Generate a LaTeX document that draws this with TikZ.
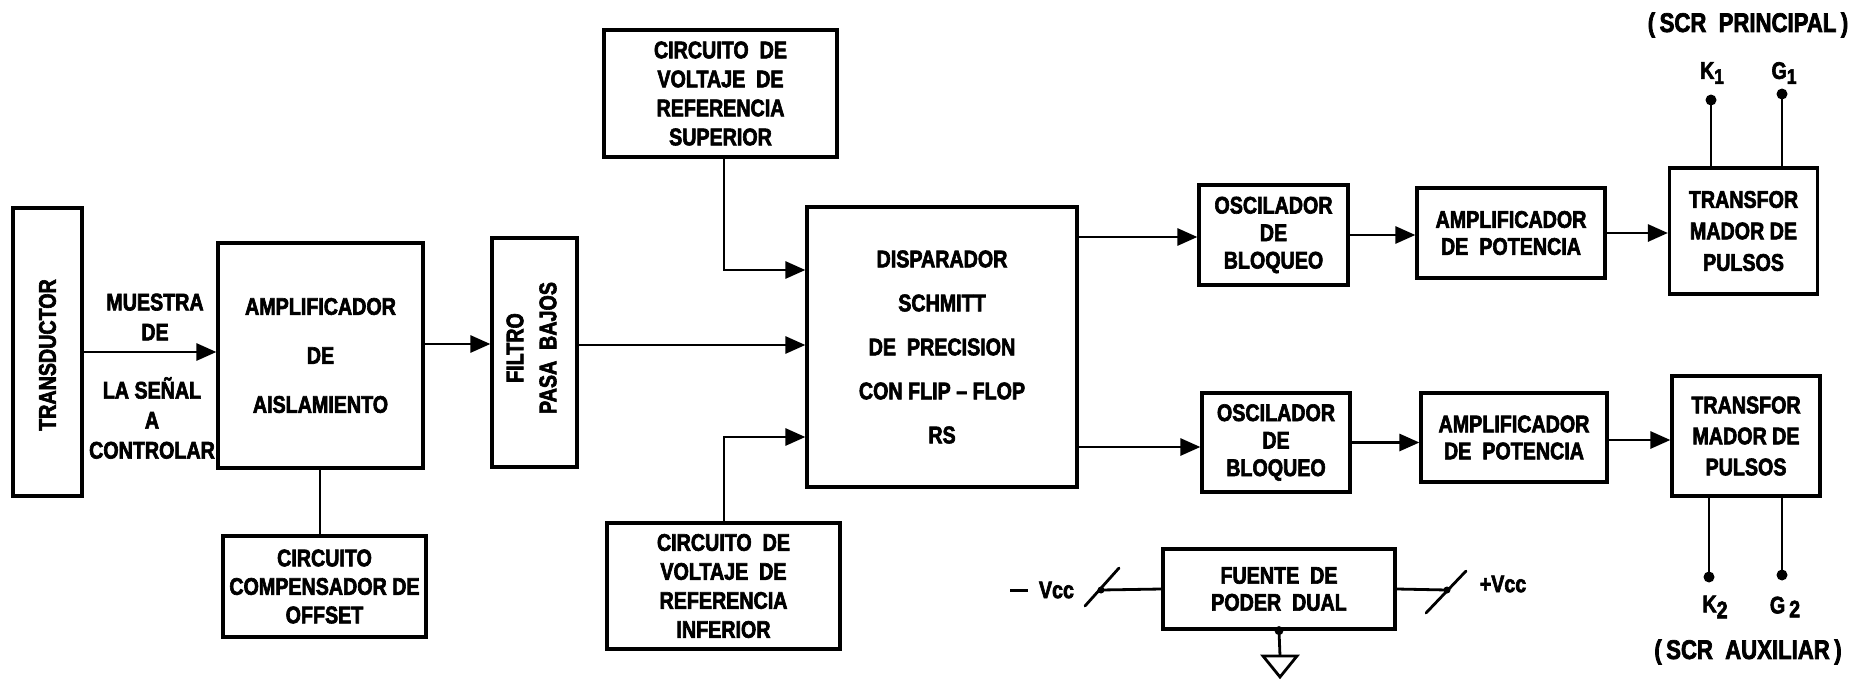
\documentclass[tikz,border=0pt]{standalone}
\usepackage{fontspec}
\setmainfont{Liberation Sans}[UprightFont={* Bold}, BoldFont={* Bold}, FakeStretch=0.82, FakeBold=2.6]
\usetikzlibrary{arrows.meta}
\tikzset{
  box/.style={draw, line width=3.2pt, inner sep=0pt, align=center},
  arr/.style={line width=2.8pt, -{Triangle[length=20pt,width=17pt]}},
  wire/.style={line width=2.8pt},
  dot/.style={circle, fill, inner sep=0pt, minimum size=11pt},
  lbl/.style={inner sep=0pt, align=center},
}
\newcommand{\fs}[1]{\fontsize{24}{#1}\selectfont}
\begin{document}
\begin{tikzpicture}[x=1pt,y=-1pt]
\useasboundingbox (0,0) rectangle (1856,680);
% boxes
\node[box, minimum width=69pt, minimum height=288pt] (td) at (47.5,352) {};
\node[lbl, rotate=90, font=\fs{28}] (tdt) at (47.5,355) {TRANSDUCTOR};
\node[box, minimum width=205pt, minimum height=225pt, font=\fs{49}] (amp) at (320.5,355.5) {AMPLIFICADOR\\DE\\AISLAMIENTO};
\node[box, minimum width=203pt, minimum height=101pt, font=\fs{28.5}] (off) at (324.5,586.5) {CIRCUITO\\COMPENSADOR DE\\OFFSET};
\node[box, minimum width=85pt, minimum height=229pt] (filt) at (534.5,352.5) {};
\node[lbl, rotate=90, font=\fs{33}] (filtt) at (531.5,348) {FILTRO\\PASA\ \ BAJOS};
\node[box, minimum width=233pt, minimum height=127pt, font=\fs{29}] (sup) at (720.5,93.5) {CIRCUITO\ \ DE\\VOLTAJE\ \ DE\\REFERENCIA\\SUPERIOR};
\node[box, minimum width=233pt, minimum height=126pt, font=\fs{29}] (inf) at (723.5,586) {CIRCUITO\ \ DE\\VOLTAJE\ \ DE\\REFERENCIA\\INFERIOR};
\node[box, minimum width=270pt, minimum height=280pt, font=\fs{44}] (sch) at (942,347) {DISPARADOR\\SCHMITT\\DE\ \ PRECISION\\CON FLIP -- FLOP\\RS};
\node[box, minimum width=149pt, minimum height=100pt, font=\fs{27.5}] (osc1) at (1273.5,235) {OSCILADOR\\DE\\BLOQUEO};
\node[box, minimum width=148pt, minimum height=99pt, font=\fs{27.5}] (osc2) at (1276,442.5) {OSCILADOR\\DE\\BLOQUEO};
\node[box, minimum width=188pt, minimum height=90pt, font=\fs{27}] (pa1) at (1511,233) {AMPLIFICADOR\\DE\ \ POTENCIA};
\node[box, minimum width=186pt, minimum height=89pt, font=\fs{27}] (pa2) at (1514,437.5) {AMPLIFICADOR\\DE\ \ POTENCIA};
\node[box, minimum width=148pt, minimum height=126pt, font=\fs{31.5}] (tr1) at (1743.5,231) {TRANSFOR\\MADOR DE\\PULSOS};
\node[box, minimum width=148pt, minimum height=120pt, font=\fs{31}] (tr2) at (1746,436) {TRANSFOR\\MADOR DE\\PULSOS};
\node[box, minimum width=232pt, minimum height=80pt, font=\fs{27}] (fu) at (1279,589) {FUENTE\ \ DE\\PODER\ \ DUAL};
% labels
\node[lbl, font=\fs{30}] (ms1) at (155,317) {MUESTRA\\DE};
\node[lbl, font=\fs{30}] (ms2) at (152,418) {LA SEÑAL\\A\\CONTROLAR};
\node[lbl, font=\fontsize{27}{30}\selectfont] (scrp) at (1748,25) {(\,SCR\ \ PRINCIPAL\,)};
\node[lbl, font=\fontsize{27}{30}\selectfont] (scra) at (1748,652) {(\,SCR\ \ AUXILIAR\,)};
\node[lbl, font=\fs{28}] (k1l) at (1712,73) {K\raisebox{-5pt}{\fontsize{21}{21}\selectfont 1}};
\node[lbl, font=\fs{28}] (g1l) at (1784,73) {G\raisebox{-5pt}{\fontsize{21}{21}\selectfont 1}};
\node[lbl, font=\fs{28}] (k2l) at (1715,607) {K\raisebox{-6pt}{\fontsize{24}{24}\selectfont 2}};
\node[lbl, font=\fs{28}] (g2l) at (1785,607) {G\,\raisebox{-4pt}{\fontsize{24}{24}\selectfont 2}};
\node[lbl, font=\fs{28}] (mv) at (1042,590) {\rule[6pt]{18pt}{3.5pt}\ \ Vcc};
\node[lbl, font=\fs{28}] (pv) at (1503,584) {+Vcc};
% connectors
\draw[arr] (td.east) -- (td.east -| amp.west);
\draw[arr] ([yshift=11.5pt]amp.east) -- ([yshift=11.5pt]amp.east -| filt.west);
\draw[arr] ([yshift=7.5pt]filt.east) -- ([yshift=7.5pt]filt.east -| sch.west);
\draw[arr] ([xshift=3.5pt]sup.south) |- ([yshift=77pt]sch.west);
\draw[arr] ([xshift=0.5pt]inf.north) |- ([yshift=-90pt]sch.west);
\draw[arr] ([yshift=110pt]sch.east) -- ([yshift=110pt]sch.east -| osc1.west);
\draw[arr] ([yshift=-100pt]sch.east) -- ([yshift=-100pt]sch.east -| osc2.west);
\draw[arr] (osc1.east) -- (osc1.east -| pa1.west);
\draw[arr] (pa1.east) -- (pa1.east -| tr1.west);
\draw[arr] (osc2.east) -- (osc2.east -| pa2.west);
\draw[arr] ([yshift=-2.5pt]pa2.east) -- ([yshift=-2.5pt]pa2.east -| tr2.west);
\draw[wire] ([xshift=-4.5pt]off.north) -- ([xshift=-4.5pt]off.north |- amp.south);
% SCR leads
\coordinate (k1) at (1711,100);
\coordinate (g1) at (1782,94);
\coordinate (k2) at (1709,577);
\coordinate (g2) at (1782,575);
\draw[wire] (k1) -- (k1 |- tr1.north);
\draw[wire] (g1) -- (g1 |- tr1.north);
\draw[wire] (k2) -- (k2 |- tr2.south);
\draw[wire] (g2) -- (g2 |- tr2.south);
\node[dot] (k1d) at (k1) {};
\node[dot] (g1d) at (g1) {};
\node[dot] (k2d) at (k2) {};
\node[dot] (g2d) at (g2) {};
% power supply
\coordinate (mj) at (1101,590);
\coordinate (pj) at (1447,590);
\draw[wire] (fu.west) -- (mj);
\draw[wire] (fu.east) -- (pj);
\draw[wire, line cap=round] (1085,606) -- (1119,568);
\draw[wire, line cap=round] (1426,613) -- (1466,571);
\node[dot, minimum size=7pt] (mjd) at (mj) {};
\node[dot, minimum size=7pt] (pjd) at (pj) {};
\coordinate (gnd) at (1280,656);
\draw[wire] (fu.south) -- (gnd);
\node[dot, minimum size=9pt] (fud) at (fu.south) {};
\draw[wire, line join=miter] (1263,656) -- (1297,656) -- (1280,677) -- cycle;
\end{tikzpicture}
\end{document}
